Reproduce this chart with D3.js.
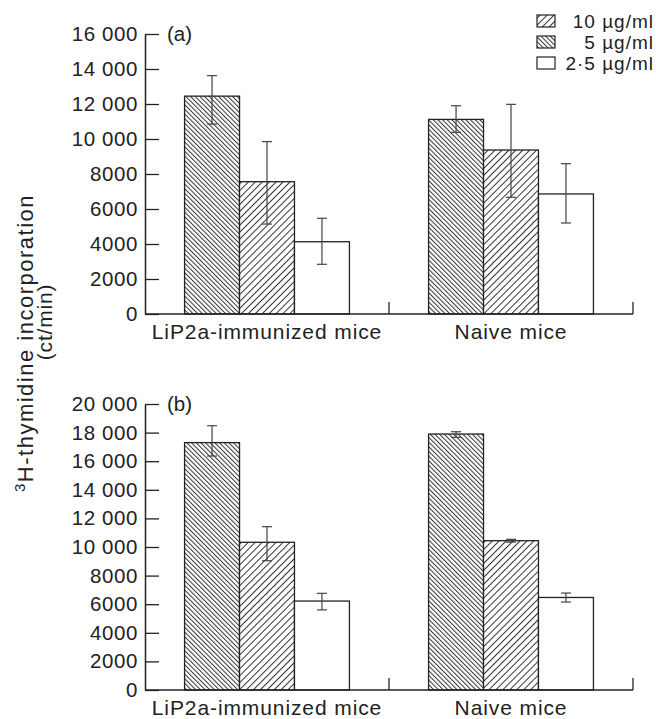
<!DOCTYPE html>
<html>
<head>
<meta charset="utf-8">
<script src="https://cdn.jsdelivr.net/npm/d3@7/dist/d3.min.js"></script>
<style>
body { margin: 0; background: #fff; }
svg { display: block; font-family: "Liberation Sans", Arial, Helvetica, sans-serif; }
</style>
</head>
<body>
<script>
// categories and doses (bar order inside each group)
var categories = ["LiP2a-immunized mice", "Naive mice"];
var doses = ["5", "10", "2.5"];
var legendLabels = ["10 \u00b5g/ml", "5 \u00b5g/ml", "2\u00b75 \u00b5g/ml"];
var legendDoses = ["10", "5", "2.5"];

// panel (a): means and error bar ends, [LiP2a, Naive]
var a5 = [12450, 11120], a5Lo = [10850, 10380], a5Hi = [13620, 11900];
var a10 = [7560, 9370], a10Lo = [5140, 6670], a10Hi = [9850, 11980];
var a25 = [4130, 6860], a25Lo = [2840, 5200], a25Hi = [5470, 8590];
// panel (b)
var b5 = [17300, 17900], b5Lo = [16360, 17670], b5Hi = [18480, 18060];
var b10 = [10330, 10440], b10Lo = [9040, 10340], b10Hi = [11420, 10540];
var b25 = [6220, 6470], b25Lo = [5600, 6150], b25Hi = [6760, 6780];

var ticksA = d3.range(0, 16001, 2000);
var ticksB = d3.range(0, 20001, 2000);

var width = 656, height = 719;
var svg = d3.select("body").append("svg").attr("width", width).attr("height", height);
svg.append("rect").attr("width", width).attr("height", height).attr("fill", "#fff");

// hatch patterns
var defs = svg.append("defs");
function hatch(id, gap, angle) {
    var p = defs.append("pattern").attr("id", id)
        .attr("patternUnits", "userSpaceOnUse")
        .attr("width", gap).attr("height", gap)
        .attr("patternTransform", "rotate(" + angle + ")");
    p.append("rect").attr("width", gap).attr("height", gap).attr("fill", "#fff");
    p.append("line").attr("x1", 0.5).attr("y1", 0).attr("x2", 0.5).attr("y2", gap)
        .attr("stroke", "#333").attr("stroke-width", 1);
}
hatch("back", 3.3, -45);
hatch("fwd", 4.9, 45);
var fills = { "5": "url(#back)", "10": "url(#fwd)", "2.5": "#fff" };

function fmt(d) {
    return d >= 10000 ? d3.format(",")(d).replace(",", " ") : d;
}

var xLeft = 145, xRight = 633;

function drawPanel(cfg) {
    var g = svg.append("g");
    var y = d3.scaleLinear().domain([0, cfg.max]).range([cfg.y0, cfg.y1]);
    var x0 = d3.scaleBand().domain(categories).range([xLeft, xRight]);
    var x1 = d3.scaleBand().domain(doses).range([0, x0.bandwidth()]).paddingOuter(0.72);

    // bars
    var rows = [];
    categories.forEach(function (c, i) {
        doses.forEach(function (k) {
            rows.push({ c: c, k: k, v: cfg.vals[k][i], lo: cfg.lo[k][i], hi: cfg.hi[k][i] });
        });
    });
    g.selectAll("rect.bar").data(rows).enter().append("rect").attr("class", "bar")
        .attr("x", function (d) { return x0(d.c) + x1(d.k); })
        .attr("y", function (d) { return y(d.v); })
        .attr("width", x1.bandwidth())
        .attr("height", function (d) { return y(0) - y(d.v); })
        .attr("fill", function (d) { return fills[d.k]; })
        .attr("stroke", "#222").attr("stroke-width", 1.3);

    // error bars
    var eb = g.selectAll("g.err").data(rows).enter().append("g").attr("class", "err")
        .attr("stroke", "#444").attr("stroke-width", 1.2);
    function cx(d) { return x0(d.c) + x1(d.k) + x1.bandwidth() / 2; }
    eb.append("line").attr("x1", cx).attr("x2", cx)
        .attr("y1", function (d) { return y(d.lo); }).attr("y2", function (d) { return y(d.hi); });
    ["lo", "hi"].forEach(function (e) {
        eb.append("line")
            .attr("x1", function (d) { return cx(d) - 5; }).attr("x2", function (d) { return cx(d) + 5; })
            .attr("y1", function (d) { return y(d[e]); }).attr("y2", function (d) { return y(d[e]); });
    });

    // y axis
    var ax = g.append("g").attr("transform", "translate(" + xLeft + ",0)")
        .call(d3.axisLeft(y).tickValues(cfg.ticks).tickSizeInner(-14).tickSizeOuter(0).tickPadding(7).tickFormat(fmt));
    ax.select(".domain").attr("stroke", "#222").attr("stroke-width", 1.5);
    ax.selectAll(".tick line").attr("stroke", "#222").attr("stroke-width", 1.3);
    ax.selectAll(".tick text").attr("fill", "#222").style("font-size", "20.5px")
        .style("letter-spacing", "0.6px").style("font-family", null);

    // x axis baseline and group dividers
    g.append("line").attr("x1", xLeft).attr("x2", xRight).attr("y1", y(0)).attr("y2", y(0))
        .attr("stroke", "#222").attr("stroke-width", 1.5);
    g.selectAll("line.div").data(categories).enter().append("line").attr("class", "div")
        .attr("x1", function (c) { return x0(c) + x0.bandwidth(); })
        .attr("x2", function (c) { return x0(c) + x0.bandwidth(); })
        .attr("y1", y(0)).attr("y2", y(0) - 12)
        .attr("stroke", "#222").attr("stroke-width", 1.3);
    g.selectAll("text.cat").data(categories).enter().append("text").attr("class", "cat")
        .attr("x", function (c) { return x0(c) + x0.bandwidth() / 2; })
        .attr("y", y(0) + 25)
        .attr("text-anchor", "middle").attr("fill", "#222")
        .style("font-size", "21px").style("letter-spacing", "0.9px")
        .text(function (c) { return c; });

    // panel label
    g.append("text").attr("x", xLeft + 22).attr("y", y(cfg.max)).attr("dy", "0.35em")
        .attr("fill", "#222").style("font-size", "20.5px").text(cfg.label);
}

drawPanel({
    label: "(a)", max: 16000, y0: 314, y1: 34, ticks: ticksA,
    vals: { "5": a5, "10": a10, "2.5": a25 },
    lo: { "5": a5Lo, "10": a10Lo, "2.5": a25Lo },
    hi: { "5": a5Hi, "10": a10Hi, "2.5": a25Hi }
});
drawPanel({
    label: "(b)", max: 20000, y0: 690, y1: 404, ticks: ticksB,
    vals: { "5": b5, "10": b10, "2.5": b25 },
    lo: { "5": b5Lo, "10": b10Lo, "2.5": b25Lo },
    hi: { "5": b5Hi, "10": b10Hi, "2.5": b25Hi }
});

// legend
var lg = svg.append("g").selectAll("g").data(legendLabels).enter().append("g")
    .attr("transform", function (d, i) { return "translate(0," + (21 + i * 21) + ")"; });
lg.append("rect").attr("x", 537).attr("y", -6).attr("width", 18).attr("height", 12)
    .attr("fill", function (d, i) { return fills[legendDoses[i]]; })
    .attr("stroke", "#222").attr("stroke-width", 1.2);
lg.append("text").attr("x", 654).attr("dy", "0.36em").attr("text-anchor", "end")
    .attr("fill", "#222").style("font-size", "19px").style("letter-spacing", "1px")
    .text(function (d) { return d; });

// y axis title
var t1 = svg.append("text").attr("transform", "translate(33,343) rotate(-90)")
    .attr("text-anchor", "middle").attr("fill", "#222").style("font-size", "22px").style("letter-spacing", "1.5px");
t1.append("tspan").style("font-size", "15px").attr("dy", -8).text("3");
t1.append("tspan").attr("dy", 8).text("H-thymidine incorporation");
svg.append("text").attr("transform", "translate(52,322) rotate(-90)")
    .attr("text-anchor", "middle").attr("fill", "#222").style("font-size", "21px").style("letter-spacing", "0.8px")
    .text("(ct/min)");
</script>
</body>
</html>
